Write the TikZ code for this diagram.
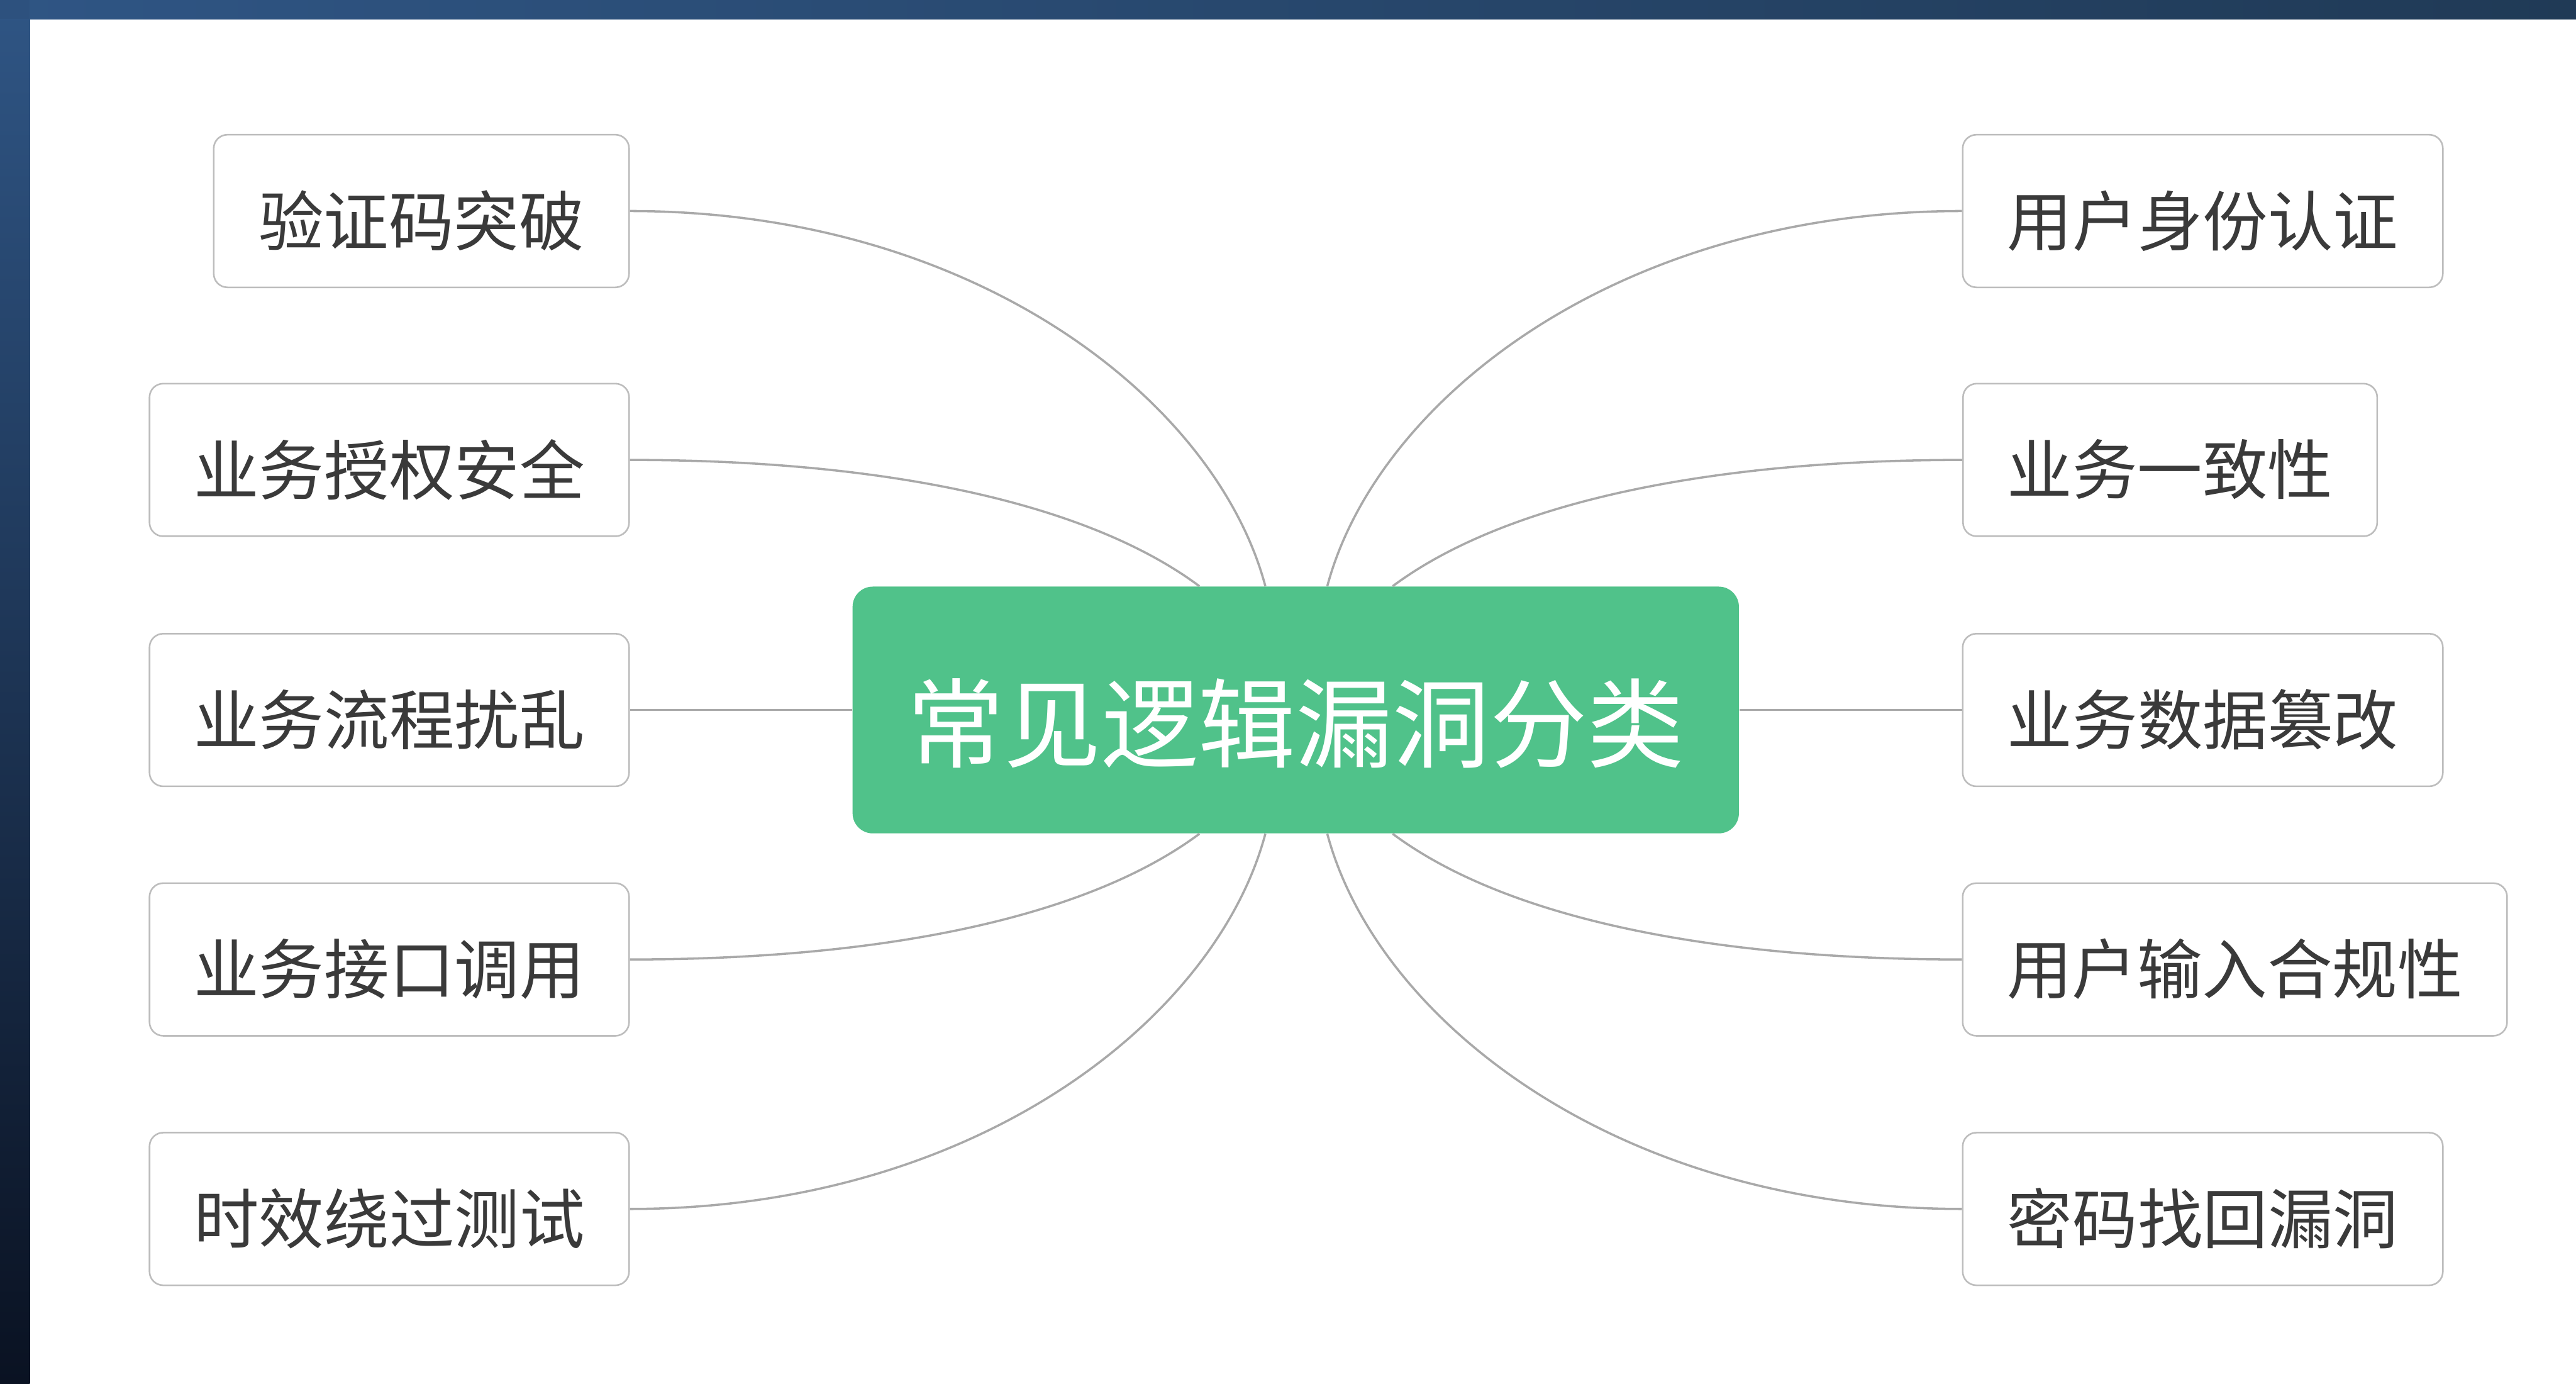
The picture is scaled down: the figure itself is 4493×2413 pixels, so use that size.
\documentclass[tikz,border=0pt]{standalone}
\usepackage{fontspec}
\setmainfont{Noto Sans CJK SC}
\usetikzlibrary{calc}
\definecolor{frameA}{HTML}{2F5584}
\definecolor{frameB}{HTML}{0A1222}
\definecolor{frameC}{HTML}{203A56}
\definecolor{hubgreen}{HTML}{50C28A}
\definecolor{leafline}{HTML}{BDBDBD}
\definecolor{linkgray}{HTML}{A9A9A9}
\definecolor{leaftext}{HTML}{3A3A3A}
\newcommand{\lowleaf}[1]{\raisebox{-4.8pt}[\height][\depth]{#1}}
\newcommand{\lowhub}[1]{\raisebox{-6.5pt}[\height][\depth]{#1}}
\tikzset{
  leaf/.style={draw=leafline, line width=0.8pt, rounded corners=6.8pt, fill=white,
    minimum height=2.66cm, inner sep=0pt, text=leaftext, font=\fontsize{32.3}{37}\selectfont},
  hub/.style={fill=hubgreen, rounded corners=10pt, minimum width=15.45cm, minimum height=4.3cm,
    inner sep=0pt, text=white, font=\fontsize{48.2}{55}\selectfont},
  link/.style={draw=linkgray, line width=1.1pt}
}
\begin{document}
\begin{tikzpicture}[x=0.01cm,y=-0.01cm]
\useasboundingbox (0,0) rectangle (4493,2413);
% frame
\fill[white] (0,0) rectangle (4493,2413);
\shade[top color=frameA, bottom color=frameB] (0,0) rectangle (52,2413);
\shade[left color=frameA, right color=frameC] (0,0) rectangle (4493,33);
\fill[frameA!90!black, opacity=0.4] (0,0) rectangle (52,33);
% hub
\node[hub] (c) at (2260,1238) {\lowhub{常见逻辑漏洞分类}};
% left leaves
\node[leaf, minimum width=7.24cm] (l1) at (735,368) {\lowleaf{验证码突破}};
\node[leaf, minimum width=8.36cm] (l2) at (679,802) {\lowleaf{业务授权安全}};
\node[leaf, minimum width=8.36cm] (l3) at (679,1238) {\lowleaf{业务流程扰乱}};
\node[leaf, minimum width=8.36cm] (l4) at (679,1673) {\lowleaf{业务接口调用}};
\node[leaf, minimum width=8.36cm] (l5) at (679,2108) {\lowleaf{时效绕过测试}};
% right leaves
\node[leaf, minimum width=8.37cm] (r1) at (3842,368) {\lowleaf{用户身份认证}};
\node[leaf, minimum width=7.22cm] (r2) at (3785,802) {\lowleaf{业务一致性}};
\node[leaf, minimum width=8.37cm] (r3) at (3842,1238) {\lowleaf{业务数据篡改}};
\node[leaf, minimum width=9.49cm] (r4) at (3898,1673) {\lowleaf{用户输入合规性}};
\node[leaf, minimum width=8.37cm] (r5) at (3842,2108) {\lowleaf{密码找回漏洞}};
% hub anchor points
\coordinate (tl1) at ($(c.north)+(-53,0)$);
\coordinate (tl2) at ($(c.north)+(-168,0)$);
\coordinate (tr1) at ($(c.north)+(55,0)$);
\coordinate (tr2) at ($(c.north)+(169,0)$);
\coordinate (bl1) at ($(c.south)+(-53,0)$);
\coordinate (bl2) at ($(c.south)+(-168,0)$);
\coordinate (br1) at ($(c.south)+(55,0)$);
\coordinate (br2) at ($(c.south)+(169,0)$);
\draw[link] (l1.east) .. controls +(603,0) and +(-86,-323) .. (tl1);
\draw[link] (l2.east) .. controls +(453,0) and +(-192,-143) .. (tl2);
\draw[link] (l3.east) -- (c.west);
\draw[link] (l4.east) .. controls +(453,0) and +(-192,143) .. (bl2);
\draw[link] (l5.east) .. controls +(603,0) and +(-86,323) .. (bl1);
\draw[link] (r1.west) .. controls +(-603,0) and +(86,-323) .. (tr1);
\draw[link] (r2.west) .. controls +(-453,0) and +(192,-143) .. (tr2);
\draw[link] (r3.west) -- (c.east);
\draw[link] (r4.west) .. controls +(-453,0) and +(192,143) .. (br2);
\draw[link] (r5.west) .. controls +(-603,0) and +(86,323) .. (br1);
\end{tikzpicture}
\end{document}
